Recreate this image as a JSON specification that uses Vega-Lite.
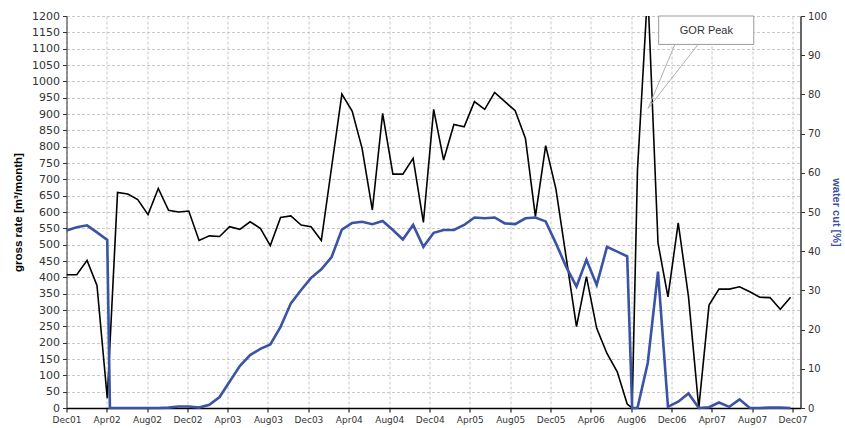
{
  "$schema": "https://vega.github.io/schema/vega-lite/v6.json",
  "width": 734,
  "height": 392,
  "autosize": {"type": "none"},
  "padding": {"left": 66.5, "top": 16, "right": 44.5, "bottom": 20},
  "background": "white",
  "config": {"view": {"stroke": null}, "font": "Liberation Sans"},
  "datasets": {
    "gross": [
      {"date": "2001-12-01", "gross": 408}, {"date": "2002-01-01", "gross": 408}, {"date": "2002-02-01", "gross": 452},
      {"date": "2002-03-03", "gross": 375}, {"date": "2002-04-03", "gross": 30}, {"date": "2002-05-04", "gross": 660},
      {"date": "2002-06-04", "gross": 655}, {"date": "2002-07-04", "gross": 638}, {"date": "2002-08-04", "gross": 592},
      {"date": "2002-09-04", "gross": 672}, {"date": "2002-10-05", "gross": 605}, {"date": "2002-11-04", "gross": 600},
      {"date": "2002-12-05", "gross": 603}, {"date": "2003-01-05", "gross": 513}, {"date": "2003-02-05", "gross": 527},
      {"date": "2003-03-08", "gross": 525}, {"date": "2003-04-07", "gross": 555}, {"date": "2003-05-08", "gross": 547},
      {"date": "2003-06-08", "gross": 570}, {"date": "2003-07-09", "gross": 550}, {"date": "2003-08-08", "gross": 497},
      {"date": "2003-09-08", "gross": 583}, {"date": "2003-10-09", "gross": 588}, {"date": "2003-11-09", "gross": 560},
      {"date": "2003-12-09", "gross": 555}, {"date": "2004-01-09", "gross": 513}, {"date": "2004-02-09", "gross": 737},
      {"date": "2004-03-11", "gross": 961}, {"date": "2004-04-11", "gross": 909}, {"date": "2004-05-11", "gross": 795},
      {"date": "2004-06-11", "gross": 606}, {"date": "2004-07-12", "gross": 902}, {"date": "2004-08-12", "gross": 716},
      {"date": "2004-09-11", "gross": 716}, {"date": "2004-10-12", "gross": 764}, {"date": "2004-11-12", "gross": 568},
      {"date": "2004-12-13", "gross": 914}, {"date": "2005-01-12", "gross": 759}, {"date": "2005-02-12", "gross": 868},
      {"date": "2005-03-15", "gross": 861}, {"date": "2005-04-15", "gross": 938}, {"date": "2005-05-16", "gross": 914},
      {"date": "2005-06-15", "gross": 966}, {"date": "2005-07-16", "gross": 938}, {"date": "2005-08-16", "gross": 910},
      {"date": "2005-09-16", "gross": 825}, {"date": "2005-10-16", "gross": 586}, {"date": "2005-11-16", "gross": 803},
      {"date": "2005-12-17", "gross": 670}, {"date": "2006-01-17", "gross": 460}, {"date": "2006-02-17", "gross": 249},
      {"date": "2006-03-19", "gross": 402}, {"date": "2006-04-19", "gross": 244}, {"date": "2006-05-20", "gross": 167},
      {"date": "2006-06-20", "gross": 111}, {"date": "2006-07-20", "gross": 12}, {"date": "2006-08-04", "gross": 0},
      {"date": "2006-08-20", "gross": 728}, {"date": "2006-09-20", "gross": 1280}, {"date": "2006-10-21", "gross": 505},
      {"date": "2006-11-20", "gross": 340}, {"date": "2006-12-21", "gross": 567}, {"date": "2007-01-21", "gross": 341},
      {"date": "2007-02-21", "gross": 0}, {"date": "2007-03-24", "gross": 315}, {"date": "2007-04-23", "gross": 364},
      {"date": "2007-05-24", "gross": 364}, {"date": "2007-06-24", "gross": 371}, {"date": "2007-07-25", "gross": 356},
      {"date": "2007-08-24", "gross": 339}, {"date": "2007-09-24", "gross": 338}, {"date": "2007-10-25", "gross": 302},
      {"date": "2007-11-25", "gross": 339}
    ],
    "wc": [
      {"date": "2001-12-01", "wc": 45.3}, {"date": "2002-01-01", "wc": 46.1}, {"date": "2002-02-01", "wc": 46.6},
      {"date": "2002-03-03", "wc": 44.8}, {"date": "2002-04-03", "wc": 42.9}, {"date": "2002-04-11", "wc": 0},
      {"date": "2002-05-04", "wc": 0}, {"date": "2002-06-04", "wc": 0}, {"date": "2002-07-04", "wc": 0},
      {"date": "2002-08-04", "wc": 0}, {"date": "2002-09-04", "wc": 0}, {"date": "2002-10-05", "wc": 0.1},
      {"date": "2002-11-04", "wc": 0.4}, {"date": "2002-12-05", "wc": 0.4}, {"date": "2003-01-05", "wc": 0.1},
      {"date": "2003-02-05", "wc": 0.8}, {"date": "2003-03-08", "wc": 2.8}, {"date": "2003-04-07", "wc": 6.7},
      {"date": "2003-05-08", "wc": 10.7}, {"date": "2003-06-08", "wc": 13.5}, {"date": "2003-07-09", "wc": 15.1},
      {"date": "2003-08-08", "wc": 16.2}, {"date": "2003-09-08", "wc": 20.7}, {"date": "2003-10-09", "wc": 26.7},
      {"date": "2003-11-09", "wc": 30.1}, {"date": "2003-12-09", "wc": 33.2}, {"date": "2004-01-09", "wc": 35.4},
      {"date": "2004-02-09", "wc": 38.5}, {"date": "2004-03-11", "wc": 45.5}, {"date": "2004-04-11", "wc": 47.2},
      {"date": "2004-05-11", "wc": 47.5}, {"date": "2004-06-11", "wc": 46.9}, {"date": "2004-07-12", "wc": 47.7},
      {"date": "2004-08-12", "wc": 45.4}, {"date": "2004-09-11", "wc": 43.0}, {"date": "2004-10-12", "wc": 46.7},
      {"date": "2004-11-12", "wc": 41.1}, {"date": "2004-12-13", "wc": 44.7}, {"date": "2005-01-12", "wc": 45.4},
      {"date": "2005-02-12", "wc": 45.4}, {"date": "2005-03-15", "wc": 46.7}, {"date": "2005-04-15", "wc": 48.6},
      {"date": "2005-05-16", "wc": 48.4}, {"date": "2005-06-15", "wc": 48.6}, {"date": "2005-07-16", "wc": 47.1},
      {"date": "2005-08-16", "wc": 46.9}, {"date": "2005-09-16", "wc": 48.4}, {"date": "2005-10-16", "wc": 48.6},
      {"date": "2005-11-16", "wc": 47.6}, {"date": "2005-12-17", "wc": 42.0}, {"date": "2006-01-17", "wc": 36.0},
      {"date": "2006-02-17", "wc": 31.0}, {"date": "2006-03-19", "wc": 37.8}, {"date": "2006-04-19", "wc": 31.4},
      {"date": "2006-05-20", "wc": 41.1}, {"date": "2006-06-20", "wc": 39.9}, {"date": "2006-07-20", "wc": 38.7},
      {"date": "2006-08-04", "wc": 0}, {"date": "2006-08-20", "wc": 0}, {"date": "2006-09-20", "wc": 11.5},
      {"date": "2006-10-21", "wc": 34.8}, {"date": "2006-11-20", "wc": 0.3}, {"date": "2006-12-21", "wc": 1.6},
      {"date": "2007-01-21", "wc": 3.7}, {"date": "2007-02-21", "wc": 0}, {"date": "2007-03-24", "wc": 0.2},
      {"date": "2007-04-23", "wc": 1.4}, {"date": "2007-05-24", "wc": 0.3}, {"date": "2007-06-24", "wc": 2.2},
      {"date": "2007-07-25", "wc": 0}, {"date": "2007-08-24", "wc": 0}, {"date": "2007-09-24", "wc": 0.1},
      {"date": "2007-10-25", "wc": 0.1}, {"date": "2007-11-25", "wc": 0}
    ],
    "box": [{"date": "2006-10-23", "date2": "2007-08-06", "gross": 1113, "gross2": 1200}],
    "pointer": [
      {"date": "2006-12-11", "date2": "2006-09-21", "gross": 1113, "gross2": 917},
      {"date": "2007-02-19", "date2": "2006-09-21", "gross": 1113, "gross2": 917}
    ],
    "label": [{"date": "2007-03-16", "gross": 1154, "label": "GOR Peak"}]
  },
  "encoding": {
    "x": {
      "field": "date",
      "type": "temporal",
      "scale": {
        "type": "utc",
        "domain": [
          {"year": 2001, "month": 12, "date": 1, "utc": true},
          {"year": 2007, "month": 12, "date": 25, "utc": true}
        ]
      },
      "axis": {
        "title": null,
        "format": "%b%y",
        "values": [
          {"year": 2001, "month": 12, "date": 1, "utc": true},
          {"year": 2002, "month": 4, "date": 1, "utc": true},
          {"year": 2002, "month": 8, "date": 1, "utc": true},
          {"year": 2002, "month": 12, "date": 1, "utc": true},
          {"year": 2003, "month": 4, "date": 1, "utc": true},
          {"year": 2003, "month": 8, "date": 1, "utc": true},
          {"year": 2003, "month": 12, "date": 1, "utc": true},
          {"year": 2004, "month": 4, "date": 1, "utc": true},
          {"year": 2004, "month": 8, "date": 1, "utc": true},
          {"year": 2004, "month": 12, "date": 1, "utc": true},
          {"year": 2005, "month": 4, "date": 1, "utc": true},
          {"year": 2005, "month": 8, "date": 1, "utc": true},
          {"year": 2005, "month": 12, "date": 1, "utc": true},
          {"year": 2006, "month": 4, "date": 1, "utc": true},
          {"year": 2006, "month": 8, "date": 1, "utc": true},
          {"year": 2006, "month": 12, "date": 1, "utc": true},
          {"year": 2007, "month": 4, "date": 1, "utc": true},
          {"year": 2007, "month": 8, "date": 1, "utc": true},
          {"year": 2007, "month": 12, "date": 1, "utc": true}
        ],
        "labelFont": "DejaVu Sans",
        "labelFontSize": 9,
        "labelColor": "#333333",
        "labelPadding": 3,
        "labelFlush": false,
        "labelOverlap": false,
        "tickSize": 4,
        "tickColor": "#000000",
        "domainColor": "#000000",
        "domainWidth": 1.5,
        "grid": true,
        "gridColor": "#c8c8c8",
        "gridDash": [3, 2],
        "gridWidth": 1
      }
    }
  },
  "layer": [
    {
      "encoding": {
        "y": {
          "field": "gross",
          "type": "quantitative",
          "scale": {"domain": [0, 1200], "nice": false},
          "axis": {
            "orient": "left",
            "format": "d",
            "values": [0, 50, 100, 150, 200, 250, 300, 350, 400, 450, 500, 550, 600, 650, 700, 750, 800, 850, 900, 950, 1000, 1050, 1100, 1150, 1200],
            "title": "gross rate [m³/month]",
            "titleFont": "Liberation Sans",
            "titleFontSize": 11.5,
            "titleFontWeight": "bold",
            "titleColor": "#000000",
            "titlePadding": 8,
            "labelFont": "DejaVu Sans",
            "labelFontSize": 11,
            "labelColor": "#333333",
            "labelPadding": 3,
            "labelOverlap": false,
            "tickSize": 4,
            "tickColor": "#333333",
            "domainColor": "#333333",
            "domainWidth": 1,
            "grid": true,
            "gridColor": "#c8c8c8",
            "gridDash": [3, 2],
            "gridWidth": 1
          }
        }
      },
      "layer": [
        {
          "data": {"name": "gross"},
          "mark": {"type": "line", "color": "#000000", "strokeWidth": 1.6, "clip": true}
        },
        {
          "data": {"name": "pointer"},
          "mark": {"type": "rule", "color": "#b0b0b0", "strokeWidth": 1},
          "encoding": {"x2": {"field": "date2"}, "y2": {"field": "gross2"}}
        },
        {
          "data": {"name": "box"},
          "mark": {"type": "rect", "fill": "#ffffff", "stroke": "#9a9a9a", "strokeWidth": 1},
          "encoding": {"x2": {"field": "date2"}, "y2": {"field": "gross2"}}
        },
        {
          "data": {"name": "label"},
          "mark": {"type": "text", "font": "Liberation Sans", "fontSize": 11, "color": "#333333", "align": "center", "baseline": "middle"},
          "encoding": {"text": {"field": "label"}}
        }
      ]
    },
    {
      "data": {"name": "wc"},
      "mark": {"type": "line", "color": "#3a53a4", "strokeWidth": 2.6},
      "encoding": {
        "y": {
          "field": "wc",
          "type": "quantitative",
          "scale": {"domain": [0, 100], "nice": false},
          "axis": {
            "orient": "right",
            "values": [0, 10, 20, 30, 40, 50, 60, 70, 80, 90, 100],
            "title": "water cut [%]",
            "titleFont": "Liberation Sans",
            "titleFontSize": 11,
            "titleFontWeight": "bold",
            "titleColor": "#3a4fa0",
            "titlePadding": 4,
            "labelFont": "DejaVu Sans",
            "labelFontSize": 10,
            "labelColor": "#333333",
            "labelPadding": 3,
            "tickSize": 4,
            "tickColor": "#333333",
            "domainColor": "#333333",
            "domainWidth": 1.5,
            "grid": false
          }
        }
      }
    }
  ],
  "resolve": {"scale": {"y": "independent"}}
}
